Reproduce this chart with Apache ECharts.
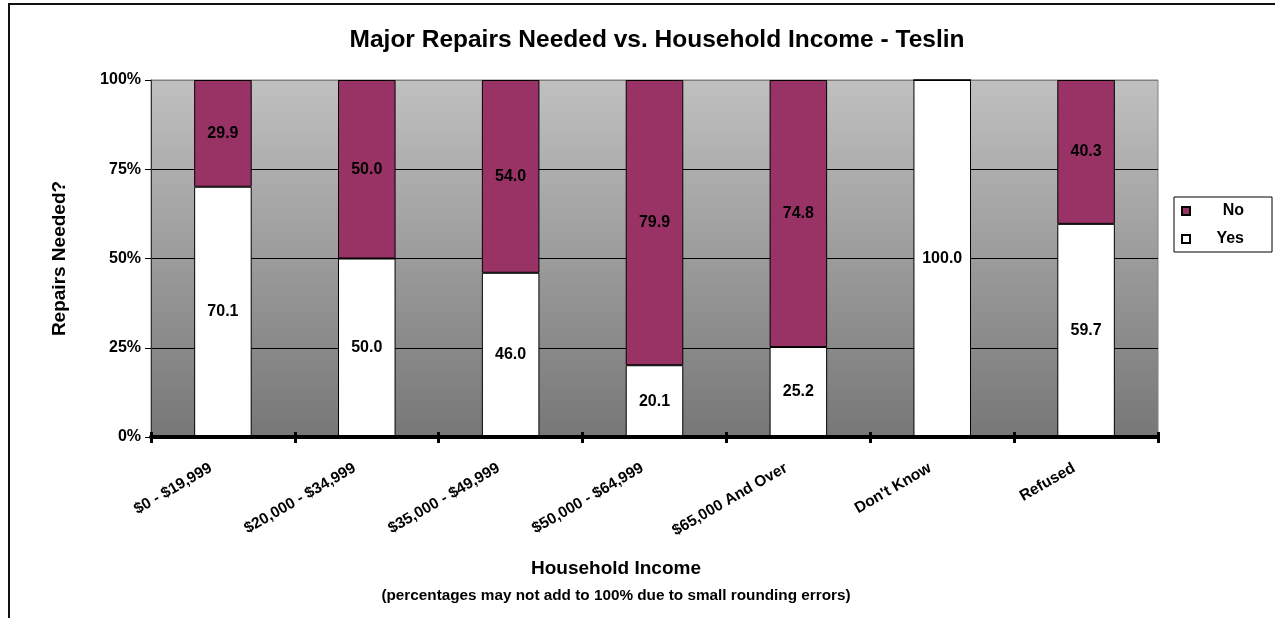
<!DOCTYPE html>
<html>
<head>
<meta charset="utf-8">
<script src="https://cdn.jsdelivr.net/npm/echarts@6/dist/echarts.min.js"></script>
<style>
  html, body { margin: 0; padding: 0; background: #fff; }
  #chart { width: 1275px; height: 618px; }
</style>
</head>
<body>
<div id="chart"></div>
<script>
// Household income brackets (x categories)
const categories = ['$0 - $19,999', '$20,000 - $34,999', '$35,000 - $49,999', '$50,000 - $64,999', '$65,000 And Over', "Don't Know", 'Refused'];
// Percent of households answering "Yes" / "No" to needing major repairs
const yesValues = [70.1, 50.0, 46.0, 20.1, 25.2, 100.0, 59.7];
const noValues = [29.9, 50.0, 54.0, 79.9, 74.8, 0, 40.3];
// Value axis ticks (percent)
const yTicks = [0, 25, 50, 75, 100];

const FONT = '"Liberation Sans", Arial, sans-serif';
const chart = echarts.init(document.getElementById('chart'), null, { renderer: 'canvas' });

const barLabel = {
  show: true,
  position: 'inside',
  color: '#000',
  fontFamily: FONT,
  fontWeight: 'bold',
  fontSize: 16,
  formatter: p => (p.value > 0 ? p.value.toFixed(1) : '')
};

chart.setOption({
  animation: false,
  backgroundColor: '#fff',
  textStyle: { fontFamily: FONT },
  graphic: [{
    type: 'rect',
    shape: { x: 9, y: 4, width: 1400, height: 800 },
    style: { fill: 'none', stroke: '#111', lineWidth: 2 },
    silent: true,
    z: -10
  }],
  title: [
    {
      text: 'Major Repairs Needed vs. Household Income - Teslin',
      left: 652, top: 23, textAlign: 'center',
      textStyle: { fontFamily: FONT, fontWeight: 'bold', fontSize: 24.5, color: '#000' }
    },
    {
      text: 'Household Income',
      left: 611, top: 554, textAlign: 'center',
      textStyle: { fontFamily: FONT, fontWeight: 'bold', fontSize: 19, color: '#000' }
    },
    {
      text: '(percentages may not add to 100% due to small rounding errors)',
      left: 611, top: 583, textAlign: 'center',
      textStyle: { fontFamily: FONT, fontWeight: 'bold', fontSize: 15.3, color: '#000' }
    }
  ],
  legend: {
    data: ['No', 'Yes'],
    orient: 'vertical',
    left: 1174, top: 197,
    backgroundColor: '#fff',
    borderColor: '#000', borderWidth: 1, borderRadius: 0,
    padding: [6, 28, 5, 7],
    itemWidth: 8, itemHeight: 8, itemGap: 12,
    icon: 'rect',
    formatter: '{r|{name}}',
    textStyle: {
      fontFamily: FONT, fontWeight: 'bold', fontSize: 16, color: '#000', lineHeight: 16,
      rich: { r: { width: 49, align: 'right', fontFamily: FONT, fontWeight: 'bold', fontSize: 16, color: '#000' } }
    }
  },
  grid: {
    left: 151, right: 117, top: 80, bottom: 181,
    show: true,
    backgroundColor: {
      type: 'linear', x: 0, y: 0, x2: 0, y2: 1,
      colorStops: [{ offset: 0, color: '#c0c0c0' }, { offset: 1, color: '#777777' }]
    },
    borderColor: '#808080', borderWidth: 1
  },
  xAxis: [
    {
      type: 'category',
      data: categories,
      axisLine: { show: true, lineStyle: { color: '#000', width: 4 } },
      axisTick: { show: true, length: 6, lineStyle: { color: '#000', width: 3 } },
      axisLabel: {
        interval: 0, rotate: 30, margin: 23,
        padding: [0, 14, 0, 0],
        color: '#000', fontFamily: FONT, fontWeight: 'bold', fontSize: 15.5
      },
      z: 5
    },
    {
      type: 'category',
      data: categories,
      position: 'bottom',
      axisLine: { show: false },
      axisTick: { show: true, inside: true, length: 5, lineStyle: { color: '#000', width: 3 } },
      axisLabel: { show: false },
      z: 5
    }
  ],
  yAxis: {
    type: 'value',
    min: yTicks[0], max: yTicks[yTicks.length - 1], interval: 25,
    name: 'Repairs Needed?',
    nameLocation: 'middle',
    nameGap: 82,
    nameTextStyle: { fontFamily: FONT, fontWeight: 'bold', fontSize: 19, color: '#000' },
    axisLine: { show: true, lineStyle: { color: '#333', width: 1 } },
    axisTick: { show: true, length: 6, lineStyle: { color: '#000' } },
    axisLabel: {
      formatter: '{value}%', margin: 10,
      color: '#000', fontFamily: FONT, fontWeight: 'bold', fontSize: 16
    },
    splitLine: { show: true, lineStyle: { color: ['#808080', '#000', '#000', '#000', '#808080'], width: 1 } }
  },
  series: [
    {
      name: 'Yes', type: 'bar', stack: 'total', barWidth: '40%',
      data: yesValues,
      itemStyle: { color: '#ffffff', borderColor: '#000', borderWidth: 1 },
      label: barLabel
    },
    {
      name: 'No', type: 'bar', stack: 'total', barWidth: '40%',
      data: noValues,
      itemStyle: { color: '#993366', borderColor: '#000', borderWidth: 1 },
      label: barLabel
    }
  ]
});
</script>
</body>
</html>
